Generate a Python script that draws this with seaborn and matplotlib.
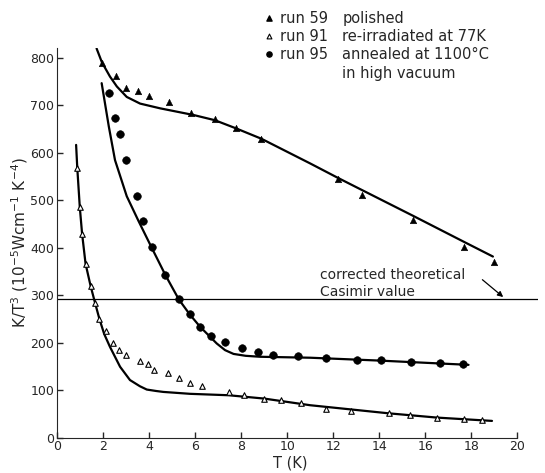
import numpy as np
import pandas as pd
import matplotlib
matplotlib.use("Agg")
import matplotlib.pyplot as plt
import seaborn as sns

run59_T = [1.95, 2.57, 3.01, 3.54, 4.01, 4.87, 5.81, 6.86, 7.77, 8.88, 12.19, 13.25, 15.46, 17.68, 19.0]
run59_K = [789, 762, 736, 729, 720, 706, 684, 670, 651, 629, 544, 511, 457, 402, 370]

run91_T = [0.88, 0.99, 1.09, 1.24, 1.46, 1.65, 1.84, 2.14, 2.43, 2.71, 2.99, 3.62, 3.94, 4.23,
           4.84, 5.29, 5.78, 6.32, 7.46, 8.13, 8.99, 9.74, 10.6, 11.68, 12.77, 14.41, 15.35,
           16.51, 17.67, 18.47]
run91_K = [568, 485, 429, 366, 319, 284, 250, 225, 200, 184, 173, 161, 154, 143,
           135, 125, 115, 108, 96, 89, 82, 78, 72, 61, 56, 51, 47,
           42, 40, 37]

run95_T = [2.28, 2.52, 2.74, 2.99, 3.46, 3.72, 4.11, 4.71, 5.29, 5.77, 6.2, 6.71, 7.3, 8.03,
           8.73, 9.4, 10.46, 11.67, 13.03, 14.07, 15.38, 16.65, 17.62]
run95_K = [725, 673, 640, 584, 509, 456, 402, 342, 291, 259, 232, 214, 201, 189,
           179, 174, 171, 168, 163, 163, 160, 156, 154]

# hand-drawn fit curves
fit59_T = [1.72, 1.95, 2.3, 2.6, 3.03, 3.61, 4.48, 5.93, 6.86, 7.77, 8.88, 11.0, 12.19, 13.25, 15.46, 17.68, 18.94]
fit59_K = [819, 790, 760, 739, 717, 703, 693, 679, 668, 651, 629, 577, 547, 521, 467, 412, 381]

fit91_T = [0.83, 0.88, 0.99, 1.09, 1.24, 1.46, 1.65, 1.84, 2.05, 2.3, 2.74, 3.17, 3.6, 3.9,
           4.3, 4.62, 5.78, 7.46, 9.0, 11.0, 14.4, 16.5, 18.9]
fit91_K = [616, 568, 485, 429, 366, 319, 284, 250, 218, 191, 149, 121, 108, 101,
           98, 96, 92, 89, 82, 68, 51, 42, 35]

fit95_T = [1.94, 2.25, 2.52, 3.03, 3.54, 4.1, 4.71, 5.29, 5.77, 6.22, 6.94, 7.3, 7.67, 8.2, 8.83,
           11.0, 14.0, 17.88]
fit95_K = [746, 655, 584, 508, 456, 401, 342, 291, 259, 233, 198, 184, 176, 172, 170,
           168, 162, 153]

casimir = 292

x_ticks = [0, 2, 4, 6, 8, 10, 12, 14, 16, 18, 20]
y_ticks = [0, 100, 200, 300, 400, 500, 600, 700, 800]

sns.set_style("ticks")
plt.rcParams['font.family'] = ['DejaVu Sans']

fig = plt.figure(figsize=(5.45, 4.73), dpi=100)
ax = fig.add_axes([0.1046, 0.075, 0.8826, 0.8235])

# fit curves
for T, K in [(fit59_T, fit59_K), (fit91_T, fit91_K), (fit95_T, fit95_K)]:
    sns.lineplot(x=T, y=K, sort=False, estimator=None, color="black", lw=1.6, ax=ax)

# data points
sns.scatterplot(x=run59_T, y=run59_K, marker="^", s=22, color="black", edgecolor="black", ax=ax, zorder=3)
sns.scatterplot(x=run91_T, y=run91_K, marker="^", s=16, facecolor="white", edgecolor="black",
                linewidth=0.8, ax=ax, zorder=3)
sns.scatterplot(x=run95_T, y=run95_K, marker="o", s=30, color="black", edgecolor="black", ax=ax, zorder=3)

# Casimir line + annotation
ax.axhline(casimir, color="black", lw=0.9)
ax.text(11.43, 342, "corrected theoretical", fontsize=10, va="center", ha="left")
ax.text(11.43, 306, "Casimir value", fontsize=10, va="center", ha="left")
ax.annotate("", xy=(19.48, casimir), xytext=(18.39, 336),
            arrowprops=dict(arrowstyle="-|>", color="black", lw=0.9, mutation_scale=8))

# legend drawn as text above the axes
leg_y = [883, 845, 807]
ax.scatter([9.22], [leg_y[0]], marker="^", s=14, color="black", clip_on=False)
ax.scatter([9.22], [leg_y[1]], marker="^", s=12, facecolor="white", edgecolor="black", linewidth=0.8, clip_on=False)
ax.scatter([9.22], [leg_y[2]], marker="o", s=14, color="black", clip_on=False)
leg_runs = ["run 59", "run 91", "run 95"]
leg_desc = ["polished", "re-irradiated at 77K", "annealed at 1100°C"]
for y, r, d in zip(leg_y, leg_runs, leg_desc):
    ax.text(9.7, y, r, fontsize=10.5, va="center", ha="left")
    ax.text(12.39, y, d, fontsize=10.5, va="center", ha="left")
ax.text(12.39, 767, "in high vacuum", fontsize=10.5, va="center", ha="left")

ax.set_xlim(0, 20.9)
ax.set_ylim(0, 820)
ax.set_xticks(x_ticks)
ax.set_yticks(y_ticks)
ax.spines["right"].set_visible(False)
ax.spines["top"].set_visible(False)
ax.spines["bottom"].set_bounds(0, 20)
ax.tick_params(direction="in", length=4, width=1, labelsize=9, pad=2)
ax.set_xlabel("T (K)", fontsize=10.5)
ax.set_ylabel("K/T$^3$ (10$^{-5}$Wcm$^{-1}$ K$^{-4}$)", fontsize=11)
ax.xaxis.set_label_coords(0.484, -0.046)
ax.yaxis.set_label_coords(-0.056, 0.5)

fig.savefig("out.png", dpi=100)
